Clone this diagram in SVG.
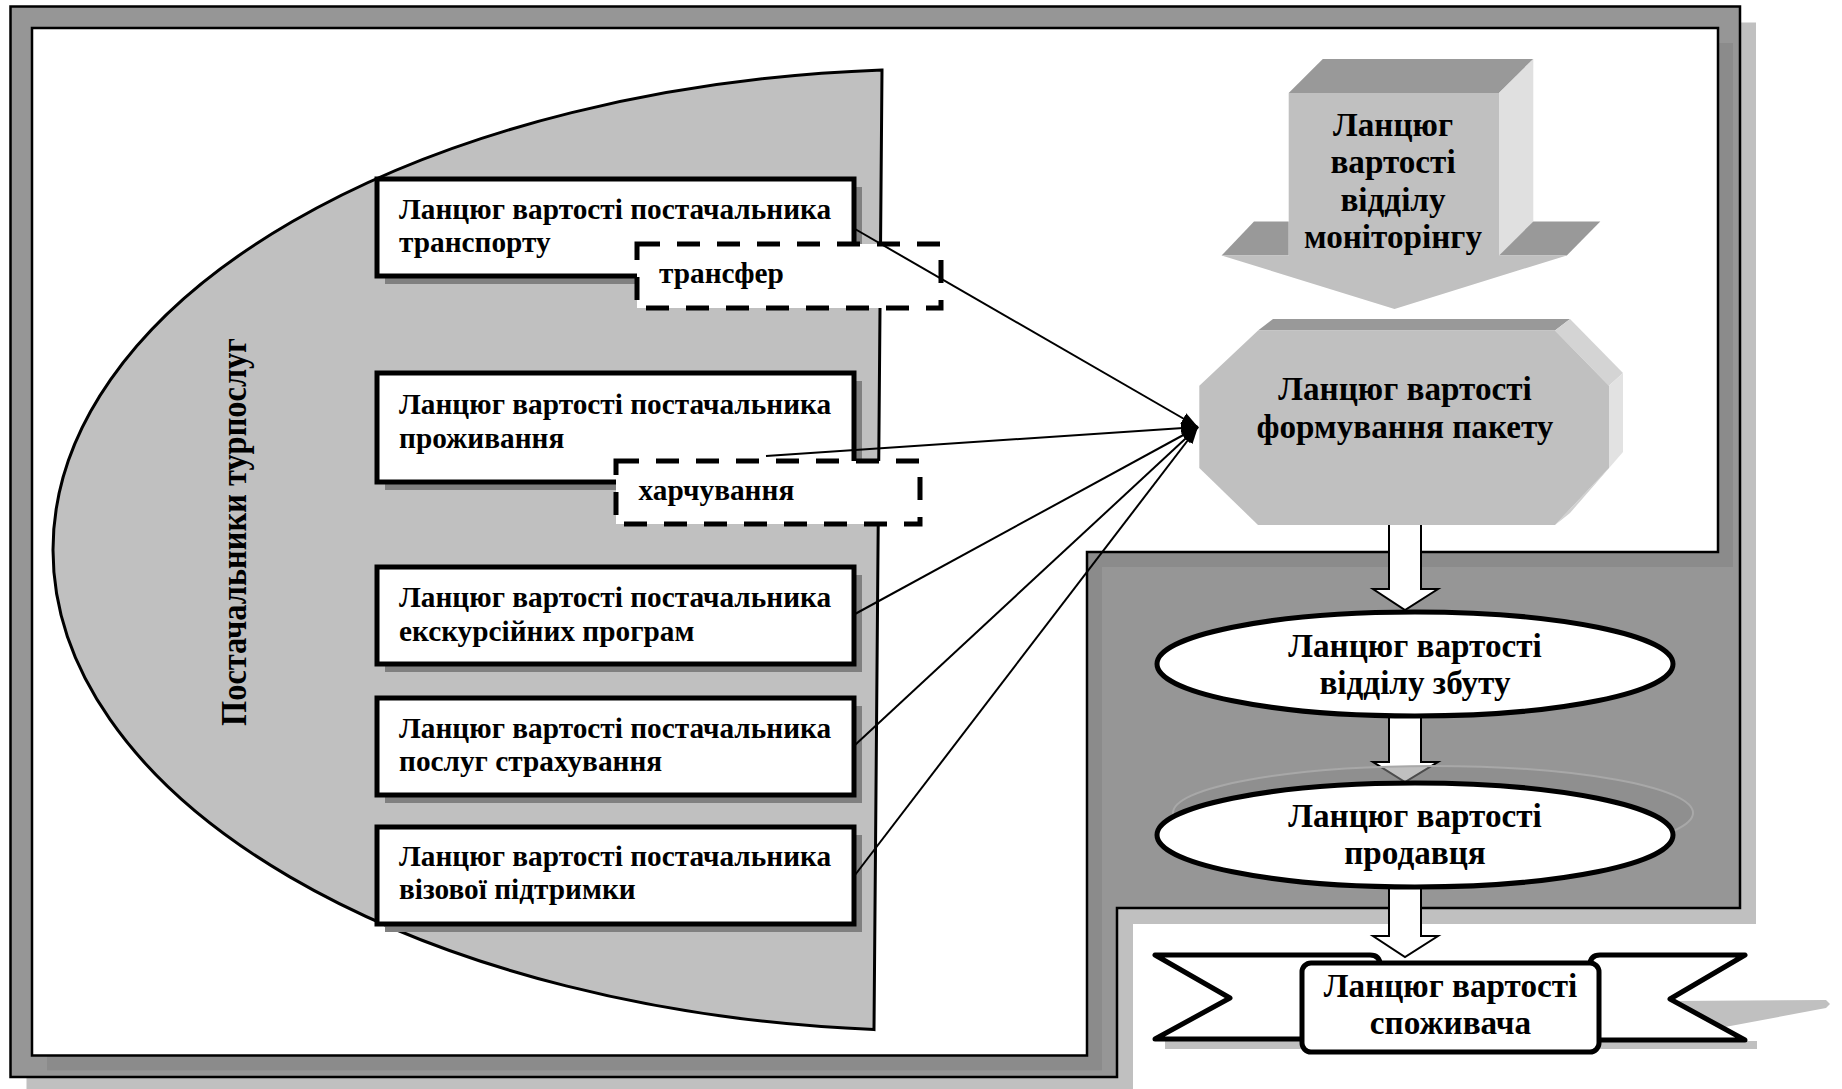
<svg xmlns="http://www.w3.org/2000/svg" width="1842" height="1089" viewBox="0 0 1842 1089">
<defs>
<style>
text { font-family: "Liberation Serif", "Times New Roman", serif; font-weight: bold; fill: #000; }
.t28 { font-size: 29.3px; }
.t32 { font-size: 33.2px; text-anchor: middle; }
.box { fill: #fff; stroke: #000; stroke-width: 5; }
.shadow { fill: #808080; }
.dash { fill: #fff; stroke: #000; stroke-width: 5; stroke-dasharray: 23 17; }
.conn { stroke: #000; stroke-width: 2; fill: none; marker-end: url(#ah); }
.barrow { fill: #fff; stroke: #000; stroke-width: 2; stroke-linejoin: miter; }
.oval { fill: #fff; stroke: #000; stroke-width: 5; }
.rib { fill: #fff; stroke: #000; stroke-width: 5; stroke-linejoin: round; }
.lg { fill: #c0c0c0; }
.dk { fill: #999999; }
</style>
<marker id="ah" markerUnits="userSpaceOnUse" markerWidth="18" markerHeight="12" refX="17" refY="6" orient="auto">
<path d="M0,0 L17,6 L0,12 Z" fill="#000"/>
</marker>
</defs>
<rect x="0" y="0" width="1842" height="1089" fill="#fff"/>

<g id="frame">
<path d="M26.5,22.5 H1756 V924 H1133 V1093 H26.5 Z" fill="#c0c0c0"/>
<path d="M10.5,6.5 H1740 V908 H1117 V1077 H10.5 Z" fill="#969696" stroke="#000" stroke-width="2.5"/>
<path d="M47,43 H1733 V567 H1102 V1070.5 H47 Z" fill="#8b8b8b"/>
<path d="M32,28 H1718 V552 H1087 V1055.5 H32 Z" fill="#fff" stroke="#000" stroke-width="2.5"/>
</g>

<g id="suppliers">
<path d="M882,70 A889,481 0 0,0 53,550 A889,481 0 0,0 874,1029.6 Z" fill="#c0c0c0" stroke="#000" stroke-width="3"/>
<text transform="translate(246,532) rotate(-90)" font-size="35" text-anchor="middle" textLength="388" lengthAdjust="spacingAndGlyphs">Постачальники турпослуг</text>
</g>

<g id="box-transport">
<rect class="shadow" x="385" y="187" width="477" height="97"/>
<rect class="box" x="377" y="179" width="477" height="97"/>
<text class="t28" x="399" y="218.6">Ланцюг вартості постачальника</text>
<text class="t28" x="399" y="251.8">транспорту</text>
</g>

<g id="box-accommodation">
<rect class="shadow" x="385" y="381" width="477" height="109"/>
<rect class="box" x="377" y="373" width="477" height="109"/>
<text class="t28" x="399" y="414">Ланцюг вартості постачальника</text>
<text class="t28" x="399" y="448">проживання</text>
</g>

<g id="box-excursion">
<rect class="shadow" x="385" y="575" width="477" height="97"/>
<rect class="box" x="377" y="567" width="477" height="97"/>
<text class="t28" x="399" y="606.5">Ланцюг вартості постачальника</text>
<text class="t28" x="399" y="641">екскурсійних програм</text>
</g>

<g id="box-insurance">
<rect class="shadow" x="385" y="706" width="477" height="97"/>
<rect class="box" x="377" y="698" width="477" height="97"/>
<text class="t28" x="399" y="737.8">Ланцюг вартості постачальника</text>
<text class="t28" x="399" y="771">послуг страхування</text>
</g>

<g id="box-visa">
<rect class="shadow" x="385" y="835" width="477" height="97"/>
<rect class="box" x="377" y="827" width="477" height="97"/>
<text class="t28" x="399" y="865.6">Ланцюг вартості постачальника</text>
<text class="t28" x="399" y="899">візової підтримки</text>
</g>

<g id="box-transfer">
<rect class="dash" x="637" y="244" width="304" height="64"/>
<text class="t28" x="659" y="283.3">трансфер</text>
</g>

<g id="box-food">
<rect class="dash" x="616" y="461" width="304" height="63"/>
<text class="t28" x="638.5" y="500">харчування</text>
</g>

<g id="monitoring">
<polygon class="dk" points="1288.7,92.9 1499,92.9 1533.3,58.9 1322.8,58.9"/>
<polygon fill="#e0e0e0" points="1499,92.9 1533.3,58.9 1533.3,221.4 1499,255.4"/>
<polygon class="dk" points="1221.6,255.4 1254,221.4 1288.7,221.4 1288.7,255.4"/>
<polygon class="dk" points="1499,255.4 1533.3,221.4 1600.3,221.4 1566.8,255.4"/>
<polygon class="lg" points="1288.7,92.9 1499,92.9 1499,255.4 1566.8,255.4 1394.5,309 1221.6,255.4 1288.7,255.4"/>
<text class="t32" x="1393" y="135.7">Ланцюг</text>
<text class="t32" x="1393" y="173">вартості</text>
<text class="t32" x="1393" y="210.7">відділу</text>
<text class="t32" x="1393" y="248">моніторінгу</text>
</g>

<g id="connectors">
<line class="conn" x1="855" y1="229" x2="1198" y2="427"/>
<line class="conn" x1="766" y1="456" x2="1198" y2="427"/>
<line class="conn" x1="855" y1="614" x2="1198" y2="427"/>
<line class="conn" x1="855" y1="745" x2="1198" y2="427"/>
<line class="conn" x1="855" y1="875" x2="1198" y2="427"/>
<polygon class="barrow" points="1389,520 1421,520 1421,589 1438,589 1405,610 1373,589 1389,589"/>
<polygon class="barrow" points="1389,712 1421,712 1421,762 1438,762 1405,782 1373,762 1389,762"/>
<ellipse cx="1433" cy="813" rx="260" ry="47" fill="#8a8a8a" fill-opacity="0.55" stroke="#a8a8a8" stroke-width="2"/>
<polygon class="barrow" points="1389,882 1421,882 1421,936 1438,936 1405,957 1373,936 1389,936"/>
</g>

<g id="package">
<polygon class="dk" points="1258,330.4 1273,319 1570,319 1555,330.4"/>
<polygon fill="#d4d4d4" points="1555,330.4 1570,319 1623,373 1609,385.7"/>
<polygon fill="#e2e2e2" points="1609,385.7 1623,373 1623,452 1609,467.9"/>
<polygon fill="#d0d0d0" points="1609,467.9 1623,452 1570,513 1555,525"/>
<polygon class="lg" points="1258,330.4 1555,330.4 1609,385.7 1609,467.9 1555,525 1258,525 1199.3,467.9 1199.3,385.7"/>
<text class="t32" x="1405" y="400">Ланцюг вартості</text>
<text class="t32" x="1405" y="438">формування пакету</text>
</g>

<g id="sales">
<ellipse class="oval" cx="1415" cy="664" rx="258" ry="52"/>
<text class="t32" x="1415" y="657">Ланцюг вартості</text>
<text class="t32" x="1415" y="694">відділу збуту</text>
</g>

<g id="seller">
<ellipse class="oval" cx="1415" cy="835" rx="258" ry="52"/>
<text class="t32" x="1415" y="827">Ланцюг вартості</text>
<text class="t32" x="1415" y="864">продавця</text>
</g>

<g id="consumer">
<rect class="lg" x="1165" y="1041" width="592" height="8"/>
<polygon class="lg" points="1672,1001 1826,1000 1830,1004 1826,1008 1725,1027"/>
<path class="rib" d="M1155,955 L1370,955 Q1380,955 1380,965 L1380,1039 L1155,1039 L1230,998 Z"/>
<path class="rib" d="M1745,955 L1600,955 Q1590,955 1590,965 L1590,1040 L1745,1040 L1670,999 Z"/>
<rect class="rib" x="1302" y="963" width="297" height="89" rx="9"/>
<text class="t32" x="1450.5" y="997">Ланцюг вартості</text>
<text class="t32" x="1450.5" y="1034">споживача</text>
</g>
</svg>
